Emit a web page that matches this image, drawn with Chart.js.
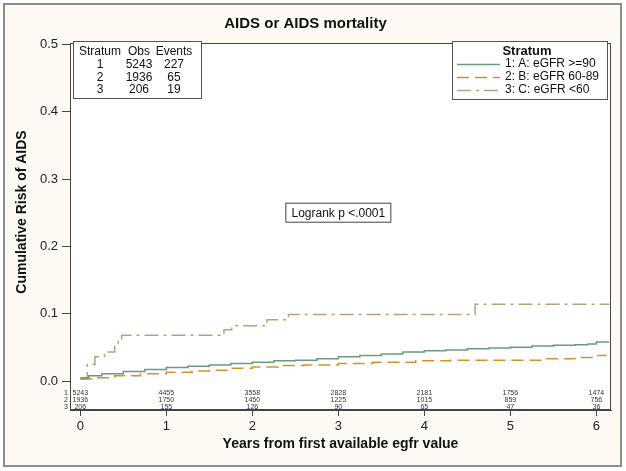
<!DOCTYPE html>
<html>
<head>
<meta charset="utf-8">
<script src="https://cdn.jsdelivr.net/npm/chart.js@4/dist/chart.umd.min.js"></script>
<style>
  html, body { margin: 0; padding: 0; background: #ffffff; }
  #wrap { width: 626px; height: 471px; }
</style>
</head>
<body>
<div id="wrap"><canvas id="kmChart" width="626" height="471"></canvas></div>
<script>
// stratum names
const strata = ["1: A: eGFR >=90", "2: B: eGFR 60-89", "3: C: eGFR <60"];

// step curves (years, cumulative risk)
const timeA = [0, 0.1, 0.25, 0.5, 0.75, 1.0, 1.25, 1.5, 1.75, 2.0, 2.25, 2.5, 2.75, 3.0, 3.25, 3.5, 3.75, 4.0, 4.25, 4.5, 4.75, 5.0, 5.25, 5.5, 5.75, 5.9, 6.0, 6.15];
const riskA = [0.005, 0.008, 0.011, 0.014, 0.017, 0.020, 0.022, 0.024, 0.026, 0.028, 0.030, 0.031, 0.033, 0.036, 0.038, 0.040, 0.043, 0.045, 0.046, 0.048, 0.049, 0.050, 0.052, 0.053, 0.054, 0.055, 0.058, 0.058];

const timeB = [0, 0.15, 0.4, 0.7, 1.0, 1.3, 1.5, 1.75, 2.0, 2.3, 2.6, 3.0, 3.4, 3.9, 4.3, 5.0, 5.4, 5.75, 6.0, 6.12];
const riskB = [0.003, 0.005, 0.008, 0.011, 0.013, 0.015, 0.016, 0.019, 0.021, 0.023, 0.024, 0.026, 0.028, 0.030, 0.031, 0.031, 0.033, 0.035, 0.038, 0.038];

const timeC = [0, 0.08, 0.17, 0.28, 0.40, 0.44, 0.48, 1.67, 1.76, 2.17, 2.42, 4.59, 6.15];
const riskC = [0.003, 0.025, 0.036, 0.043, 0.056, 0.062, 0.068, 0.076, 0.082, 0.091, 0.099, 0.114, 0.114];

// summary table
const tableHead = ["Stratum", "Obs", "Events"];
const tableStratum = ["1", "2", "3"];
const tableObs = ["5243", "1936", "206"];
const tableEvents = ["227", "65", "19"];

// numbers at risk
const riskTimes = [0, 1, 2, 3, 4, 5, 6];
const atRiskA = [5243, 4455, 3558, 2828, 2181, 1756, 1474];
const atRiskB = [1936, 1750, 1450, 1225, 1015, 859, 756];
const atRiskC = [206, 155, 126, 90, 65, 47, 36];

const xTicks = [0, 1, 2, 3, 4, 5, 6];
const yTicks = [0, 0.1, 0.2, 0.3, 0.4, 0.5];

const logrankText = "Logrank p <.0001";

const colors = ["#6b9a7b", "#d4922c", "#b7a27e"];
const dashes = [[], [12, 6], [14, 5, 3, 5]];
const FONT = "'Liberation Sans', Arial, sans-serif";

const toPts = (ts, vs) => ts.map((t, i) => ({ x: t, y: vs[i] }));

const framePlugin = {
  id: "frame",
  beforeDraw: (chart) => {
    const { ctx, chartArea: a } = chart;
    ctx.save();
    ctx.fillStyle = "#fcfaf3";
    ctx.fillRect(4, 4, 617, 462);
    ctx.strokeStyle = "#8c8c8c";
    ctx.lineWidth = 2;
    ctx.strokeRect(4, 4, 617, 462);
    ctx.fillStyle = "#ffffff";
    ctx.fillRect(a.left, a.top, a.right - a.left, a.bottom - a.top);
    ctx.restore();
  },
  afterDraw: (chart) => {
    const { ctx, chartArea: a, scales } = chart;
    const x = scales.x, y = scales.y;
    ctx.save();
    ctx.strokeStyle = "#444";
    ctx.lineWidth = 1;
    ctx.strokeRect(a.left + 0.5, a.top + 0.5, a.right - a.left - 1, a.bottom - a.top - 1);

    // y axis title
    ctx.save();
    ctx.translate(22, 212);
    ctx.rotate(-Math.PI / 2);
    ctx.font = "bold 14px " + FONT;
    ctx.fillStyle = "#111";
    ctx.textAlign = "center";
    ctx.textBaseline = "middle";
    ctx.fillText("Cumulative Risk of AIDS", 0, 0);
    ctx.restore();

    // stratum summary table
    ctx.fillStyle = "#ffffff";
    ctx.fillRect(73, 41, 128, 57);
    ctx.strokeStyle = "#555";
    ctx.strokeRect(73.5, 41.5, 128, 57);
    ctx.font = "12px " + FONT;
    ctx.fillStyle = "#111";
    ctx.textAlign = "center";
    ctx.textBaseline = "middle";
    const cols = [100, 139, 174];
    tableHead.forEach((h, i) => ctx.fillText(h, cols[i], 52));
    tableStratum.forEach((s, r) => {
      const ry = 65 + r * 12.5;
      ctx.fillText(s, cols[0], ry);
      ctx.fillText(tableObs[r], cols[1], ry);
      ctx.fillText(tableEvents[r], cols[2], ry);
    });

    // legend box
    ctx.fillStyle = "#ffffff";
    ctx.fillRect(452, 41, 155, 58);
    ctx.strokeStyle = "#555";
    ctx.strokeRect(452.5, 41.5, 155, 58);
    ctx.font = "bold 13px " + FONT;
    ctx.fillStyle = "#111";
    ctx.fillText("Stratum", 527, 51);
    ctx.font = "12px " + FONT;
    ctx.textAlign = "left";
    strata.forEach((s, i) => {
      const ly = 64 + i * 13;
      ctx.save();
      ctx.strokeStyle = colors[i];
      ctx.lineWidth = 1.5;
      ctx.setLineDash(dashes[i]);
      ctx.beginPath();
      ctx.moveTo(457, ly + 0.5);
      ctx.lineTo(500, ly + 0.5);
      ctx.stroke();
      ctx.restore();
      ctx.fillStyle = "#111";
      ctx.fillText(s, 505, ly);
    });

    // logrank box
    const cx = x.getPixelForValue(3), cy = y.getPixelForValue(0.25);
    ctx.fillStyle = "#ffffff";
    ctx.fillRect(cx - 53, cy - 10, 106, 20);
    ctx.strokeStyle = "#444";
    ctx.strokeRect(cx - 52.5, cy - 9.5, 105, 19);
    ctx.fillStyle = "#111";
    ctx.textAlign = "center";
    ctx.fillText(logrankText, cx, cy + 0.5);

    // numbers at risk
    ctx.font = "7px " + FONT;
    ctx.fillStyle = "#333";
    [atRiskA, atRiskB, atRiskC].forEach((row, r) => {
      const ry = 393 + r * 7;
      ctx.textAlign = "center";
      ctx.fillText(String(r + 1), 66, ry);
      row.forEach((n, i) => {
        ctx.fillText(String(n), x.getPixelForValue(riskTimes[i]), ry);
      });
    });
    ctx.restore();
  },
};

new Chart(document.getElementById("kmChart").getContext("2d"), {
  type: "line",
  data: {
    datasets: [
      { label: strata[0], data: toPts(timeA, riskA) },
      { label: strata[1], data: toPts(timeB, riskB) },
      { label: strata[2], data: toPts(timeC, riskC) },
    ].map((d, i) => ({
      ...d,
      borderColor: colors[i],
      borderWidth: 1.5,
      borderDash: dashes[i],
      pointRadius: 0,
      stepped: true,
      fill: false,
    })),
  },
  options: {
    responsive: false,
    animation: false,
    events: [],
    layout: { padding: { left: 0, right: 15, top: 0, bottom: 0 } },
    plugins: {
      legend: { display: false },
      tooltip: { enabled: false },
      title: {
        display: true,
        text: "AIDS or AIDS mortality",
        color: "#111",
        font: { family: FONT, size: 15, weight: "bold" },
        padding: { top: 15, bottom: 10 },
      },
    },
    scales: {
      x: {
        type: "linear",
        min: -0.12,
        max: 6.17,
        afterBuildTicks: (s) => { s.ticks = xTicks.map((v) => ({ value: v })); },
        afterFit: (s) => { s.height = 61; },
        grid: { drawOnChartArea: false, tickLength: 6, color: "#444" },
        border: { color: "#444" },
        ticks: { color: "#222", font: { family: FONT, size: 13 }, padding: 3, maxRotation: 0 },
        title: {
          display: true,
          text: "Years from first available egfr value",
          color: "#111",
          font: { family: FONT, size: 14, weight: "bold" },
          padding: { top: 0, bottom: 18 },
        },
      },
      y: {
        min: -0.043,
        max: 0.502,
        afterBuildTicks: (s) => { s.ticks = yTicks.map((v) => ({ value: v })); },
        afterFit: (s) => { s.width = 70; },
        grid: { drawOnChartArea: false, tickLength: 8, color: "#444" },
        border: { color: "#444" },
        ticks: {
          color: "#222",
          font: { family: FONT, size: 13 },
          padding: 4,
          callback: (v) => Number(v).toFixed(1),
        },
      },
    },
  },
  plugins: [framePlugin],
});
</script>
</body>
</html>
